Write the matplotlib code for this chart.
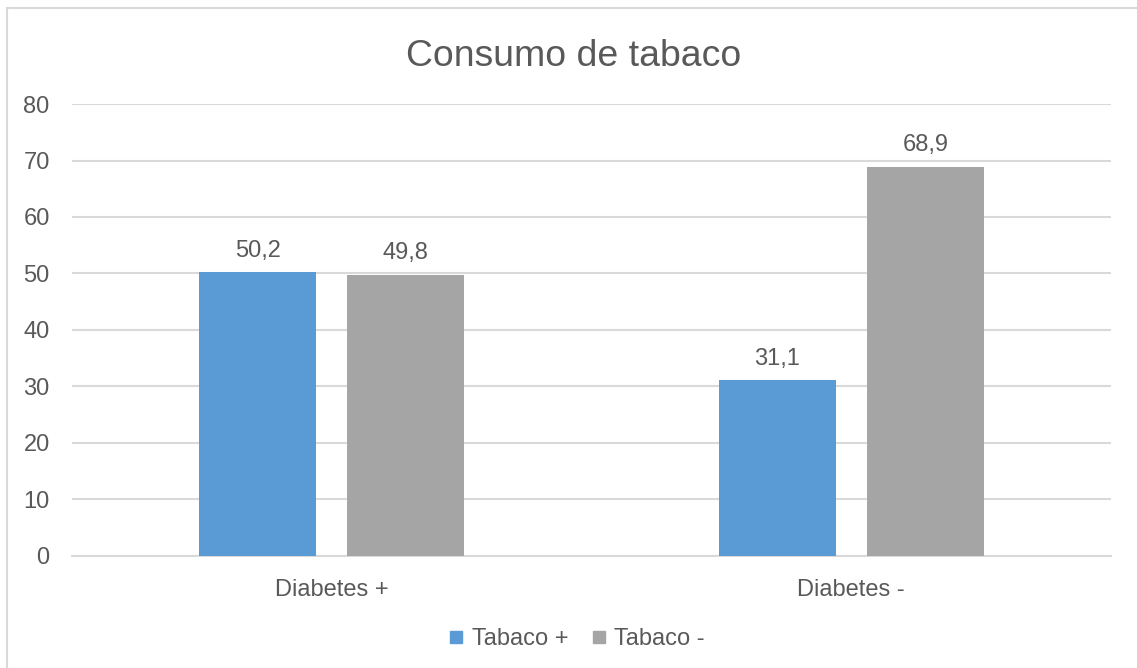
import matplotlib.pyplot as plt
from matplotlib.lines import Line2D
from matplotlib.patches import Rectangle

categories = ["Diabetes +", "Diabetes -"]
series_names = ["Tabaco +", "Tabaco -"]
tabaco_pos = [50.2, 31.1]
tabaco_neg = [49.8, 68.9]
yticks = [0, 10, 20, 30, 40, 50, 60, 70, 80]

blue = "#5B9BD5"
gray = "#A5A5A5"
text_col = "#595959"
grid_col = "#D9D9D9"

plt.rcParams['font.family'] = ['Liberation Sans', 'DejaVu Sans']

fig = plt.figure(figsize=(11.37, 6.68), dpi=100)
ax = fig.add_axes([0.0633, 0.1677, 0.9138, 0.6766])

# outer chart border
fig.patches.append(Rectangle((0.0062, -0.1), 1.2, 1.088, transform=fig.transFigure,
                             fill=False, edgecolor=grid_col, linewidth=1.5))

width = 0.2254
offset = 0.1426
x = list(range(len(categories)))
for vals, col, sign in [(tabaco_pos, blue, -1), (tabaco_neg, gray, 1)]:
    xs = [i + sign * offset for i in x]
    ax.bar(xs, vals, width=width, color=col, zorder=3)
    for xi, v in zip(xs, vals):
        ax.annotate(f"{v:.1f}".replace(".", ","), (xi, v), xytext=(0, 7.5),
                    textcoords="offset points", ha="center", va="bottom",
                    fontsize=17, color=text_col)

ax.set_xlim(-0.5, 1.5)
ax.set_ylim(0, 80)
ax.set_yticks(yticks)
ax.set_xticks(x)
ax.set_xticklabels(categories)
ax.grid(axis="y", color=grid_col, linewidth=1.5, zorder=0)
for side in ["top", "right", "left"]:
    ax.spines[side].set_visible(False)
ax.spines["bottom"].set_color(grid_col)
ax.spines["bottom"].set_linewidth(1.5)
ax.tick_params(axis="both", length=0, labelsize=17, labelcolor=text_col)
ax.tick_params(axis="y", pad=16)
ax.tick_params(axis="x", pad=16.5)

fig.text(574 / 1137, 1 - 56 / 668, "Consumo de tabaco", ha="center", va="center",
         fontsize=26.9, color=text_col)

handles = [Line2D([], [], marker="s", linestyle="none", markersize=9,
                  markerfacecolor=c, markeredgecolor=c) for c in (blue, gray)]
fig.legend(handles, series_names, loc="center", bbox_to_anchor=(0.5075, 1 - 639 / 668),
           ncol=2, frameon=False, fontsize=17, labelcolor=text_col,
           handlelength=0.6, handletextpad=0.35, columnspacing=1.0)

fig.savefig("out.png", dpi=100)
